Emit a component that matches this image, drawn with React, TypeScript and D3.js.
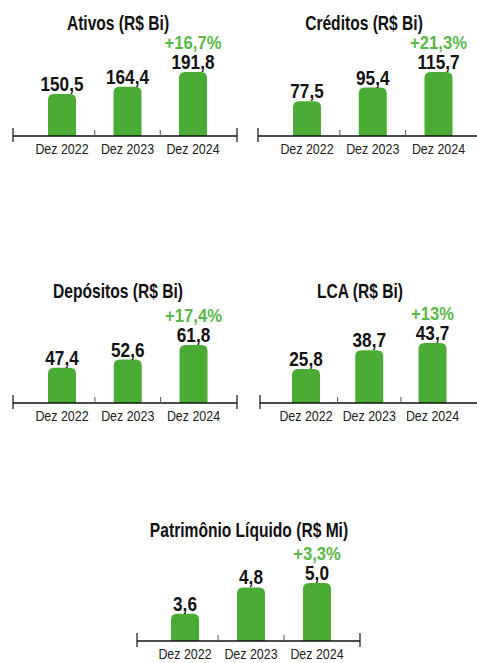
import React, { useEffect, useRef } from 'react';
import * as d3 from 'd3';

const categories = ['Dez 2022', 'Dez 2023', 'Dez 2024'];

const titles = [
  'Ativos (R$ Bi)',
  'Créditos (R$ Bi)',
  'Depósitos (R$ Bi)',
  'LCA (R$ Bi)',
  'Patrimônio Líquido (R$ Mi)',
];

const ativos = [150.5, 164.4, 191.8];
const creditos = [77.5, 95.4, 115.7];
const depositos = [47.4, 52.6, 61.8];
const lca = [25.8, 38.7, 43.7];
const patrimonio = [3.6, 4.8, 5.0];

const growth = ['+16,7%', '+21,3%', '+17,4%', '+13%', '+3,3%'];

const series = [ativos, creditos, depositos, lca, patrimonio];

// layout per panel: axis start/end, first/last bar centre, baseline, title y, value floor, max bar height
const panels = [
  { x0: 13, x1: 237, c0: 62, c1: 193, base: 136, titleY: 30, floor: 72, hMax: 64, tx: 118 },
  { x0: 258, x1: 482, c0: 307, c1: 438.5, base: 136, titleY: 30, floor: 32, hMax: 64, tx: 364 },
  { x0: 13, x1: 237, c0: 62, c1: 193.5, base: 403, titleY: 298, floor: 25, hMax: 58, tx: 118 },
  { x0: 260, x1: 482, c0: 306, c1: 432.5, base: 403, titleY: 298, floor: 2.4, hMax: 60, tx: 360 },
  { x0: 137, x1: 360, c0: 185, c1: 317, base: 641, titleY: 537, floor: 2.37, hMax: 58, tx: 249 },
];

const GREEN = '#4aac35';
const LIGHT_GREEN = '#5cb848';
const FONT = '"Liberation Sans", Arial, sans-serif';

const App: React.FC = () => {
  const ref = useRef<SVGSVGElement>(null);

  useEffect(() => {
    if (!ref.current) return;
    const svg = d3.select(ref.current);
    svg.selectAll('*').remove();

    // narrow text: draw Liberation Sans squeezed horizontally
    const label = (
      g: d3.Selection<SVGGElement, unknown, null, undefined>,
      tx: number,
      ty: number,
      text: string,
      size: number,
      sx: number,
      fill: string,
      bold: boolean
    ) =>
      g
        .append('text')
        .attr('transform', `translate(${tx},${ty}) scale(${sx},1)`)
        .attr('text-anchor', 'middle')
        .attr('font-family', FONT)
        .attr('font-weight', bold ? 'bold' : 'normal')
        .attr('font-size', size)
        .attr('fill', fill)
        .text(text);

    panels.forEach((p, i) => {
      const values = series[i];
      const g = svg.append('g') as d3.Selection<SVGGElement, unknown, null, undefined>;

      const x = d3.scalePoint<string>().domain(categories).range([p.c0, p.c1]);
      const y = d3
        .scaleLinear()
        .domain([p.floor, d3.max(values)!])
        .range([p.base, p.base - p.hMax]);

      const bw = 28;
      const r = 6;

      // bars with rounded tops
      g.selectAll('.bar')
        .data(values)
        .enter()
        .append('path')
        .attr('fill', GREEN)
        .attr('d', (d, j) => {
          const cx = x(categories[j])!;
          const l = cx - bw / 2;
          const rr = l + bw;
          const t = y(d);
          const b = p.base;
          return `M${l},${b}V${t + r}Q${l},${t} ${l + r},${t}H${rr - r}Q${rr},${t} ${rr},${t + r}V${b}Z`;
        });

      // value labels
      values.forEach((d, j) => {
        label(g, x(categories[j])!, y(d) - 3, d.toFixed(1).replace('.', ','), 19.5, 0.88, '#111', true);
      });

      // growth label
      const last = values[values.length - 1];
      label(g, x(categories[categories.length - 1])!, y(last) - 23, growth[i], 17.5, 0.95, LIGHT_GREEN, true);

      // title
      label(g, p.tx, p.titleY, titles[i], 19.5, 0.8, '#111', true);

      // axis
      g.append('line')
        .attr('x1', p.x0)
        .attr('x2', p.x1)
        .attr('y1', p.base)
        .attr('y2', p.base)
        .attr('stroke', '#111')
        .attr('stroke-width', 1.5);

      const centers = categories.map((c) => x(c)!);
      const mids = centers.slice(1).map((c, j) => (c + centers[j]) / 2);
      [p.x0, p.x1].forEach((tx) => {
        g.append('line')
          .attr('x1', tx)
          .attr('x2', tx)
          .attr('y1', p.base - 8)
          .attr('y2', p.base + 6)
          .attr('stroke', '#111')
          .attr('stroke-width', 1.2);
      });
      mids.forEach((tx) => {
        g.append('line')
          .attr('x1', tx)
          .attr('x2', tx)
          .attr('y1', p.base - 6)
          .attr('y2', p.base)
          .attr('stroke', '#555')
          .attr('stroke-width', 1);
      });

      // category labels
      categories.forEach((c) => {
        label(g, x(c)!, p.base + 18, c, 15, 0.83, '#222', false);
      });
    });
  }, []);

  return (
    <svg
      ref={ref}
      width={477}
      height={663}
      style={{ position: 'absolute', left: 0, top: 0, background: '#fff' }}
    />
  );
};

export default App;
